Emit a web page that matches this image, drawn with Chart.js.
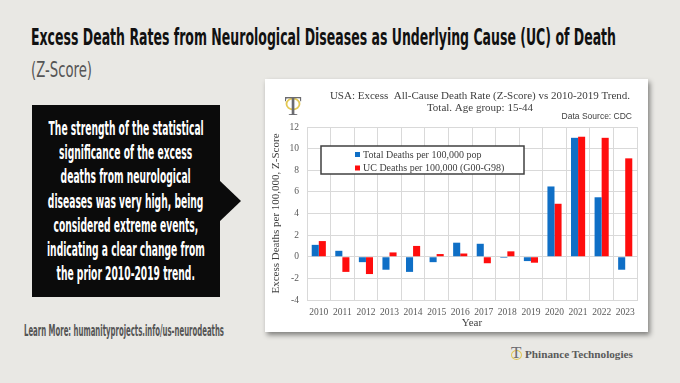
<!DOCTYPE html>
<html>
<head>
<meta charset="utf-8">
<script src="https://cdn.jsdelivr.net/npm/chart.js@4"></script>
<style>
html,body{margin:0;padding:0;}
body{width:680px;height:383px;background:#e9e8e4;position:relative;overflow:hidden;font-family:"Liberation Sans Narrow","DejaVu Sans Condensed","Liberation Sans",sans-serif;}
.fit{position:absolute;white-space:nowrap;transform-origin:left top;}
#t1{left:31px;top:24px;font-size:23px;font-weight:700;color:#111;line-height:26px;}
#t2{left:31px;top:57px;font-size:22px;font-weight:400;color:#555;line-height:26px;}
#box{position:absolute;left:32px;top:105px;width:188px;height:192px;background:#0b0b0b;}
#arrow{position:absolute;left:219px;top:180px;width:0;height:0;border-top:21px solid transparent;border-bottom:21px solid transparent;border-left:22px solid #0b0b0b;}
#boxtext{position:absolute;left:-106px;top:11px;width:400px;text-align:center;color:#fff;font-weight:700;font-size:20px;}
#boxtext div{height:24.2px;line-height:24.2px;white-space:nowrap;}
#boxtext span{display:inline-block;white-space:nowrap;transform-origin:center;}
#learn{left:24px;top:322px;font-size:16px;font-weight:700;color:#555;line-height:18px;}
#panel{position:absolute;left:265px;top:79px;width:383px;height:253px;background:#fff;box-shadow:2px 3px 5px rgba(0,0,0,0.45);}
#brand{position:absolute;left:511px;top:346px;height:16px;}
#brand .ring{position:absolute;left:0px;top:4px;width:9px;height:8px;border:1.5px solid #e3c853;border-radius:50%;}
#brand .tt{position:absolute;left:0px;top:-1px;font-family:"Liberation Serif",serif;font-size:17px;color:#6d6d72;line-height:16px;}
#brand .name{position:absolute;left:14px;top:0px;font-family:"Liberation Serif",serif;font-weight:700;font-size:11.2px;color:#5a5a5a;white-space:nowrap;line-height:16px;}
</style>
</head>
<body>
<div id="t1" class="fit" data-w="585">Excess Death Rates from Neurological Diseases as Underlying Cause (UC) of Death</div>
<div id="t2" class="fit" data-w="61">(Z-Score)</div>
<div id="box">
  <div id="boxtext">
    <div><span>The strength of the statistical</span></div>
    <div><span>significance of the excess</span></div>
    <div><span>deaths from neurological</span></div>
    <div><span>diseases was very high, being</span></div>
    <div><span>considered extreme events,</span></div>
    <div><span>indicating a clear change from</span></div>
    <div><span>the prior 2010-2019 trend.</span></div>
  </div>
</div>
<div id="arrow"></div>
<div id="learn" class="fit" data-w="200">Learn More: humanityprojects.info/us-neurodeaths</div>
<div id="panel"><canvas id="c" width="383" height="253"></canvas></div>
<div id="brand"><div class="ring"></div><div class="tt">T</div><div class="name">Phinance Technologies</div></div>
<script>
// ---- data ----
const years = ["2010","2011","2012","2013","2014","2015","2016","2017","2018","2019","2020","2021","2022","2023"];
const totalDeaths = [1.1, 0.55, -0.5, -1.2, -1.4, -0.5, 1.3, 1.2, -0.1, -0.4, 6.5, 11.0, 5.5, -1.2];
const ucDeaths = [1.45, -1.4, -1.6, 0.4, 1.0, 0.25, 0.3, -0.6, 0.5, -0.55, 4.9, 11.1, 11.0, 9.1];
const seriesLabels = ["Total Deaths per 100,000 pop", "UC Deaths per 100,000 (G00-G98)"];
const chartTitle = ["USA: Excess  All-Cause Death Rate (Z-Score) vs 2010-2019 Trend.", "Total. Age group: 15-44"];
const sourceNote = "Data Source: CDC";
const yAxisTitle = "Excess Deaths per 100,000, Z-Score";
const xAxisTitle = "Year";

// ---- fit condensed html text ----
document.querySelectorAll('.fit').forEach(el => {
  const w = el.getBoundingClientRect().width;
  const target = +el.dataset.w;
  el.style.transform = 'scaleX(' + (target / w) + ')';
});
(function(){
  const spans = document.querySelectorAll('#boxtext span');
  const w = spans[5].offsetWidth;
  const s = 158 / w;
  spans.forEach(sp => { sp.style.transform = 'scaleX(' + s + ')'; });
})();

const BLUE = '#0f6fc6', RED = '#ff0d0d';
const serif = "'Liberation Serif', 'DejaVu Serif', serif";

const decor = {
  id: 'decor',
  afterDraw(chart) {
    const c = chart.ctx;
    c.save();
    // logo
    c.strokeStyle = '#e3c853'; c.lineWidth = 1.8;
    c.beginPath(); c.ellipse(28, 25, 6.5, 5.5, 0, 0, Math.PI * 2); c.stroke();
    c.fillStyle = '#6b6b70'; c.font = "28px " + serif; c.textAlign = 'center'; c.textBaseline = 'alphabetic';
    c.fillText('T', 28, 36);
    // titles
    c.fillStyle = '#404040'; c.font = "11px " + serif; c.textBaseline = 'middle';
    c.fillText(chartTitle[0], 215, 17);
    c.fillText(chartTitle[1], 215, 29.5);
    c.font = "8.5px 'Liberation Sans', sans-serif"; c.textAlign = 'right';
    c.fillText(sourceNote, 367, 38);
    // legend
    c.fillStyle = '#fff'; c.fillRect(56, 67, 203, 28);
    c.strokeStyle = '#404040'; c.lineWidth = 1.5; c.strokeRect(56, 67, 203, 28);
    c.textAlign = 'left'; c.font = "10px " + serif;
    chart.data.datasets.forEach((ds, i) => {
      const y = 75.5 + i * 13.5;
      c.fillStyle = ds.backgroundColor; c.fillRect(90, y - 2.5, 5, 5);
      c.fillStyle = '#404040'; c.fillText(ds.label, 98, y + 0.5);
    });
    c.restore();
  }
};

new Chart(document.getElementById('c'), {
  type: 'bar',
  data: {
    labels: years,
    datasets: [
      { label: seriesLabels[0], data: totalDeaths, backgroundColor: BLUE, categoryPercentage: 0.6, barPercentage: 1.0 },
      { label: seriesLabels[1], data: ucDeaths, backgroundColor: RED, categoryPercentage: 0.6, barPercentage: 1.0 }
    ]
  },
  options: {
    responsive: false,
    animation: false,
    devicePixelRatio: 1,
    layout: { padding: { top: 48, right: 11, left: 0, bottom: 0 } },
    plugins: { legend: { display: false }, title: { display: false }, tooltip: { enabled: false } },
    scales: {
      x: {
        grid: { color: '#d9d9d9', drawTicks: false, offset: true },
        border: { color: '#d9d9d9' },
        ticks: { color: '#595959', font: { family: serif, size: 9.5 }, padding: 7, maxRotation: 0 },
        title: { display: true, text: xAxisTitle, color: '#404040', font: { family: serif, size: 11 }, padding: { top: 0, bottom: 2 } },
        afterFit(s) { s.height = 32; }
      },
      y: {
        min: -4, max: 12,
        grid: { color: '#d9d9d9', drawTicks: false },
        border: { color: '#d9d9d9' },
        ticks: { stepSize: 2, color: '#595959', font: { family: serif, size: 9.5 }, padding: 8 },
        title: { display: true, text: yAxisTitle, color: '#404040', font: { family: serif, size: 11 }, padding: { top: 5, bottom: 0 } },
        afterFit(s) { s.width = 42; }
      }
    }
  },
  plugins: [decor]
});
</script>
</body>
</html>
